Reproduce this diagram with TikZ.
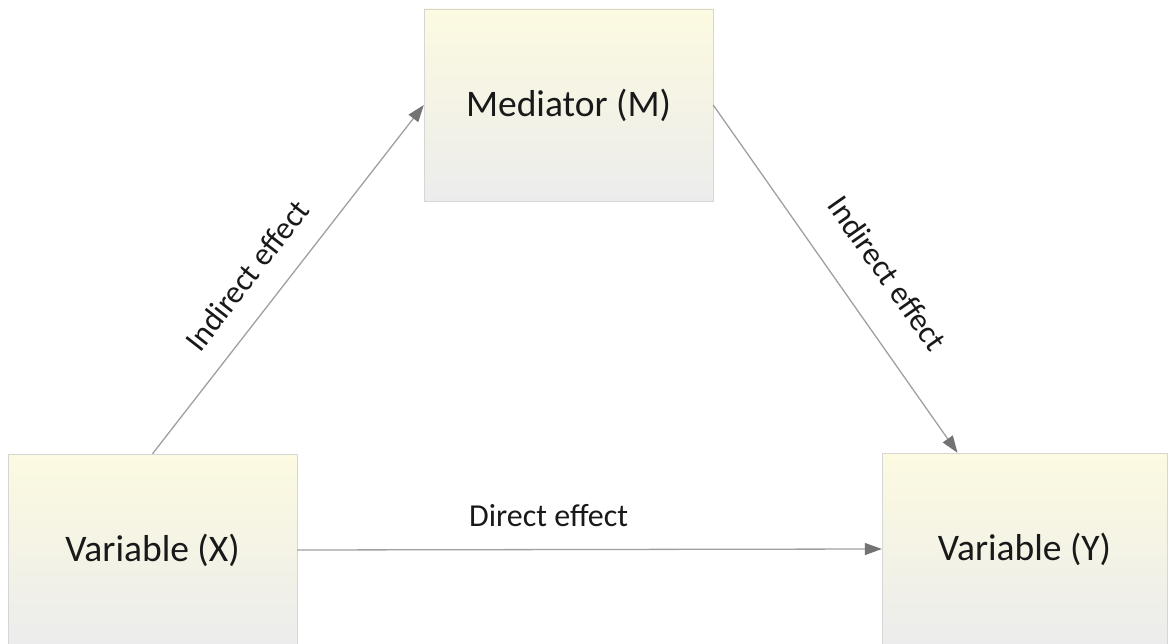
\documentclass[tikz,border=0pt]{standalone}
\usepackage{fontspec}
\setmainfont{Carlito}
\usepackage{xcolor}
\usetikzlibrary{arrows.meta,calc,positioning}

\definecolor{boxtop}{RGB}{252,250,224}
\definecolor{boxbottom}{RGB}{236,236,236}
\definecolor{boxline}{RGB}{214,214,214}
\definecolor{linkgray}{RGB}{160,160,160}
\definecolor{tipgray}{RGB}{115,115,115}

\tikzset{
    varbox/.style={draw=boxline, top color=boxtop, bottom color=boxbottom,
        middle color=boxtop!50!boxbottom, minimum width=289pt, minimum height=192pt,
        inner sep=0pt, font=\fontsize{37.5}{45}\selectfont, text=black!90},
    link/.style={draw=linkgray, line width=1.3pt,
        -{Triangle[length=17pt,width=12pt,color=tipgray]}},
    effect/.style={font=\fontsize{32}{38}\selectfont, text=black!90, inner sep=0pt}
}

\begin{document}
\begin{tikzpicture}[x=1pt, y=-1pt]
    \useasboundingbox (0,0) rectangle (1170,644);

    % Boxes
    \node[varbox] (med) at (568.5,105) {Mediator (M)};
    \node[varbox] (varx) at (152.5,550) {Variable (X)};
    \node[varbox, minimum width=285pt] (vary) at (1024.5,549) {Variable (Y)};

    % Paths
    \draw[link] (varx.north) -- (med.west)
        node[effect, pos=0.45, sloped, above=23pt] {Indirect effect};
    \draw[link] (med.east) -- ([xshift=-67pt]vary.north)
        node[effect, pos=0.56, sloped, above=34pt] {Indirect effect};
    \draw[link] (varx.east) -- (vary.west)
        node[effect, pos=0.43, above=22pt] {Direct effect};
\end{tikzpicture}
\end{document}
